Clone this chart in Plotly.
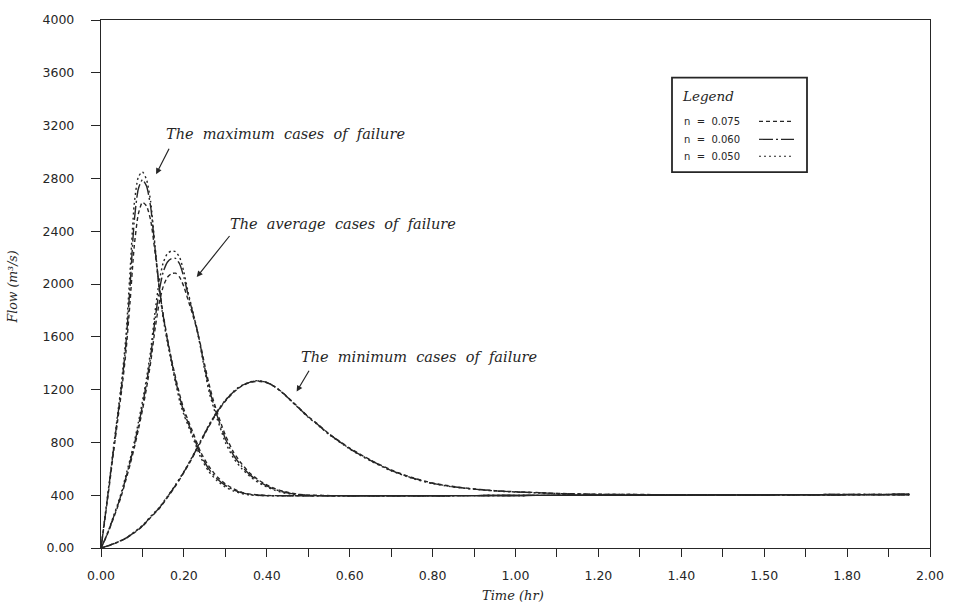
import plotly.graph_objects as go

# ---------------- data ----------------
# Maximum cases of failure
t_max = [0, 0.01, 0.02, 0.03, 0.04, 0.05, 0.06, 0.07, 0.08, 0.09, 0.10, 0.11, 0.12, 0.13, 0.14,
         0.15, 0.16, 0.17, 0.18, 0.19, 0.20, 0.22, 0.24, 0.26, 0.28, 0.30, 0.32, 0.34, 0.36,
         0.40, 0.50, 0.60, 0.80, 1.00, 1.20, 1.40, 1.60, 1.80, 1.95]
q_max_075 = [0, 230, 470, 720, 960, 1200, 1480, 1860, 2280, 2530, 2620, 2590, 2480, 2250, 1990,
             1770, 1590, 1430, 1290, 1160, 1050, 890, 730, 620, 540, 485, 448, 422, 408,
             398, 396, 396, 396, 398, 400, 400, 402, 404, 405]
q_max_060 = [0, 240, 490, 740, 990, 1240, 1540, 1980, 2470, 2720, 2790, 2740, 2580, 2280, 1990,
             1760, 1580, 1420, 1270, 1140, 1030, 870, 710, 600, 525, 475, 440, 418, 405,
             397, 396, 396, 396, 398, 400, 400, 402, 404, 405]
q_max_050 = [0, 250, 500, 760, 1010, 1270, 1600, 2090, 2600, 2810, 2850, 2790, 2620, 2300, 1980,
             1740, 1560, 1400, 1250, 1110, 1010, 850, 690, 580, 510, 462, 432, 412, 402,
             396, 396, 396, 396, 398, 400, 400, 402, 404, 405]

# Average cases of failure
t_avg = [0, 0.01, 0.02, 0.03, 0.04, 0.05, 0.06, 0.07, 0.08, 0.09, 0.10, 0.11, 0.12, 0.13, 0.14,
         0.15, 0.16, 0.17, 0.18, 0.19, 0.20, 0.21, 0.22, 0.23, 0.24, 0.25, 0.26, 0.27, 0.28,
         0.29, 0.30, 0.32, 0.34, 0.36, 0.38, 0.40, 0.42, 0.44, 0.46, 0.48, 0.50,
         0.60, 0.80, 1.00, 1.20, 1.40, 1.60, 1.80, 1.95]
q_avg_075 = [0, 65, 140, 225, 310, 405, 515, 630, 755, 895, 1045, 1215, 1410, 1650, 1850,
             1980, 2050, 2078, 2082, 2050, 1980, 1880, 1780, 1670, 1540, 1390, 1250, 1130, 1030,
             940, 855, 725, 635, 565, 515, 478, 450, 430, 415, 406, 400,
             396, 396, 398, 400, 400, 402, 404, 405]
q_avg_060 = [0, 68, 145, 232, 320, 418, 532, 650, 778, 922, 1078, 1255, 1455, 1720, 1940,
             2090, 2165, 2192, 2194, 2150, 2050, 1920, 1800, 1680, 1530, 1370, 1220, 1105, 1005,
             915, 828, 702, 617, 552, 505, 470, 443, 424, 412, 404, 399,
             396, 396, 398, 400, 400, 402, 404, 405]
q_avg_050 = [0, 70, 150, 240, 330, 430, 550, 670, 800, 950, 1110, 1290, 1500, 1780, 2010,
             2160, 2230, 2250, 2245, 2200, 2090, 1940, 1810, 1680, 1520, 1350, 1190, 1080, 980,
             890, 800, 680, 600, 540, 495, 462, 437, 418, 408, 402, 398,
             396, 396, 398, 400, 400, 402, 404, 405]

# Minimum cases of failure
t_min = [0, 0.02, 0.04, 0.06, 0.08, 0.10, 0.12, 0.14, 0.16, 0.18, 0.20, 0.22, 0.24, 0.26, 0.28,
         0.30, 0.32, 0.34, 0.36, 0.38, 0.40, 0.42, 0.44, 0.46, 0.48, 0.50, 0.52, 0.55, 0.60,
         0.65, 0.70, 0.75, 0.80, 0.85, 0.90, 0.95, 1.00, 1.05, 1.10, 1.20, 1.40, 1.60, 1.80, 1.95]
q_min_075 = [0, 19, 43, 72, 115, 164, 232, 297, 381, 471, 571, 681, 800, 920, 1025,
             1112, 1180, 1228, 1254, 1263, 1252, 1220, 1172, 1114, 1055, 996, 946, 866, 757,
             667, 592, 534, 493, 466, 448, 435, 426, 420, 414, 407, 404, 404, 405, 405]
q_min_060 = [0, 20, 44, 74, 118, 167, 236, 301, 386, 476, 576, 686, 806, 926, 1031,
             1117, 1184, 1231, 1257, 1266, 1254, 1220, 1171, 1112, 1052, 993, 943, 863, 753,
             663, 588, 531, 490, 464, 446, 433, 425, 419, 413, 406, 404, 404, 405, 405]
q_min_050 = [0, 20, 45, 75, 120, 170, 240, 305, 390, 480, 580, 690, 810, 930, 1035,
             1120, 1187, 1233, 1259, 1268, 1255, 1220, 1170, 1110, 1050, 990, 940, 860, 750,
             660, 585, 528, 488, 462, 445, 432, 424, 418, 412, 406, 404, 404, 405, 405]

n_labels = ["n = 0.075", "n = 0.060", "n = 0.050"]
x_tick_vals = [0, 0.2, 0.4, 0.6, 0.8, 1.0, 1.2, 1.4, 1.6, 1.8, 2.0]
x_tick_text = ["0.00", "0.20", "0.40", "0.60", "0.80", "1.00", "1.20", "1.40", "1.50", "1.80", "2.00"]
y_tick_vals = [0, 400, 800, 1200, 1600, 2000, 2400, 2800, 3200, 3600, 4000]
y_tick_text = ["0.00", "400", "800", "1200", "1600", "2000", "2400", "2800", "3200", "3600", "4000"]

# ---------------- styles ----------------
INK = "#262626"
dashes = ["4px,3px", "14px,3px,2px,3px", "2px,3px"]
serif = "DejaVu Serif"
sans = "DejaVu Sans"
NB = "\u00a0"


def spaced(s, k=2):
    return s.replace(" ", NB * k)


fig = go.Figure()
series = [
    (t_max, [q_max_075, q_max_060, q_max_050], "maximum"),
    (t_avg, [q_avg_075, q_avg_060, q_avg_050], "average"),
    (t_min, [q_min_075, q_min_060, q_min_050], "minimum"),
]
for t, qs, case in series:
    for q, lab, d in zip(qs, n_labels, dashes):
        fig.add_trace(go.Scatter(
            x=t, y=q, mode="lines", name=f"{lab} ({case})",
            line=dict(color=INK, width=1.4, dash=d, shape="spline", smoothing=0.6),
            showlegend=False, hoverinfo="skip"))

ann_font = dict(family=serif, size=14.5, color=INK, style="italic")

annotations = [
    # case labels
    dict(x=0.445, y=3136, xref="x", yref="y", text=spaced("The maximum cases of failure"),
         showarrow=False, font=ann_font, xanchor="center", yanchor="middle"),
    dict(x=0.585, y=2458, xref="x", yref="y", text=spaced("The average cases of failure"),
         showarrow=False, font=ann_font, xanchor="center", yanchor="middle"),
    dict(x=0.767, y=1446, xref="x", yref="y", text=spaced("The minimum cases of failure"),
         showarrow=False, font=ann_font, xanchor="center", yanchor="middle"),
    # arrows
    dict(x=0.133, y=2832, ax=0.166, ay=3036, xref="x", yref="y", axref="x", ayref="y",
         text="", showarrow=True, arrowhead=2, arrowsize=1, arrowwidth=1.2, arrowcolor=INK),
    dict(x=0.231, y=2053, ax=0.313, ay=2375, xref="x", yref="y", axref="x", ayref="y",
         text="", showarrow=True, arrowhead=2, arrowsize=1, arrowwidth=1.2, arrowcolor=INK),
    dict(x=0.472, y=1185, ax=0.504, ay=1354, xref="x", yref="y", axref="x", ayref="y",
         text="", showarrow=True, arrowhead=2, arrowsize=1, arrowwidth=1.2, arrowcolor=INK),
    # axis titles
    dict(x=(513 - 101) / 829, y=(548 - 596) / 531, xref="paper", yref="paper", text="Time (hr)",
         showarrow=False, font=dict(family=serif, size=13, color=INK, style="italic"),
         xanchor="center", yanchor="middle"),
    dict(x=(12 - 101) / 829, y=(548 - 286) / 531, xref="paper", yref="paper", text="Flow (m³/s)",
         textangle=-90, showarrow=False,
         font=dict(family=serif, size=12.5, color=INK, style="italic"),
         xanchor="center", yanchor="middle"),
]

# legend box (drawn manually so the line samples sit to the right of the labels)
lx0, lx1 = (672 - 101) / 829, (807 - 101) / 829
ly0, ly1 = (548 - 170) / 531, (548 - 75) / 531
shapes = [dict(type="rect", xref="paper", yref="paper", x0=lx0, x1=lx1, y0=ly0, y1=ly1,
               line=dict(color=INK, width=1.8), fillcolor="white", layer="above")]
annotations.append(dict(x=(680 - 101) / 829, y=(548 - 93) / 531, xref="paper", yref="paper",
                        text="Legend", showarrow=False, xanchor="left", yanchor="middle",
                        font=dict(family=serif, size=13.5, color=INK, style="italic")))
row_px = [119, 137, 154]
for lab, d, py in zip(n_labels, dashes, row_px):
    yp = (548 - py) / 531
    annotations.append(dict(x=(682 - 101) / 829, y=yp, xref="paper", yref="paper",
                            text=spaced(lab), showarrow=False, xanchor="left", yanchor="middle",
                            font=dict(family=sans, size=10, color=INK)))
    shapes.append(dict(type="line", xref="paper", yref="paper",
                       x0=(759 - 101) / 829, x1=(794 - 101) / 829, y0=yp, y1=yp,
                       line=dict(color=INK, width=1.2, dash=d), layer="above"))

fig.update_layout(
    width=963, height=607,
    margin=dict(l=101, r=33, t=17, b=59),
    paper_bgcolor="white", plot_bgcolor="white",
    font=dict(family=sans, size=12, color=INK),
    annotations=annotations, shapes=shapes,
    showlegend=False,
)
fig.update_xaxes(range=[0, 2], tickvals=x_tick_vals, ticktext=x_tick_text,
                 ticks="outside", ticklen=8, tickwidth=1.2, tickcolor=INK,
                 minor=dict(dtick=0.1, tick0=0, ticks="outside", ticklen=8, tickwidth=1.2,
                            tickcolor=INK),
                 ticklabelstandoff=8,
                 showline=True, linecolor=INK, linewidth=1.4, mirror=True,
                 showgrid=False, zeroline=False, tickfont=dict(family=sans, size=12.5, color=INK))
fig.update_yaxes(range=[0, 4000], tickvals=y_tick_vals, ticktext=y_tick_text,
                 ticks="outside", ticklen=9, tickwidth=1.2, tickcolor=INK,
                 ticklabelstandoff=14,
                 showline=True, linecolor=INK, linewidth=1.4, mirror=True,
                 showgrid=False, zeroline=False, tickfont=dict(family=sans, size=12.5, color=INK))

fig.write_html("out.html")
